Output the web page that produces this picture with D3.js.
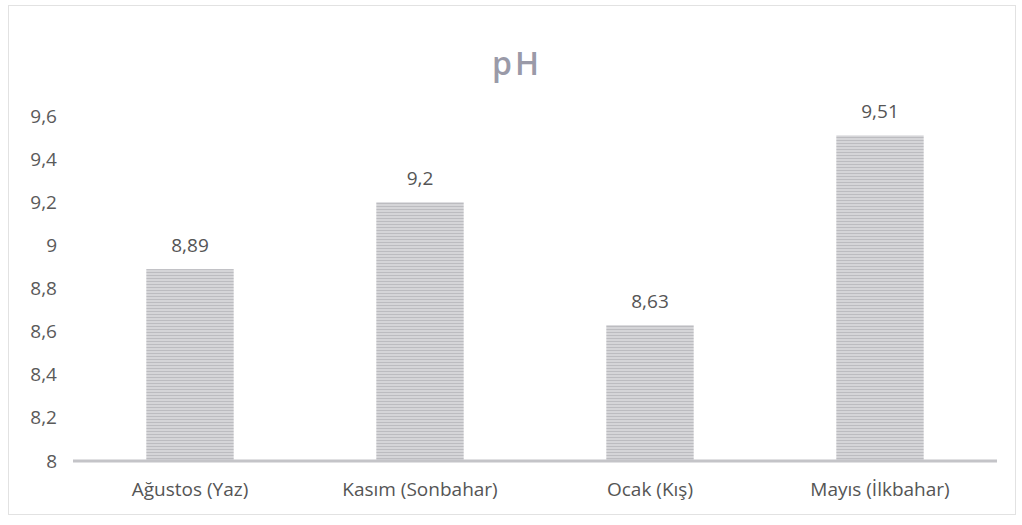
<!DOCTYPE html>
<html>
<head>
<meta charset="utf-8">
<script src="https://cdn.jsdelivr.net/npm/d3@7"></script>
<style>
  body { margin: 0; background: #fff; }
  svg text { font-family: "Open Sans", "Noto Sans", sans-serif; }
</style>
</head>
<body>
<div id="chart"></div>
<script>
var categories = ["Ağustos (Yaz)", "Kasım (Sonbahar)", "Ocak (Kış)", "Mayıs (İlkbahar)"];
var phValues = [8.89, 9.2, 8.63, 9.51];
var valueLabels = ["8,89", "9,2", "8,63", "9,51"];
var yTicks = [8, 8.2, 8.4, 8.6, 8.8, 9, 9.2, 9.4, 9.6];

var W = 1022, H = 525;
var margin = { top: 116, right: 27, bottom: 64, left: 75 };
var width = W - margin.left - margin.right,
    height = H - margin.top - margin.bottom;

var svg = d3.select("#chart").append("svg")
    .attr("width", W)
    .attr("height", H);

// outer chart frame
svg.append("rect")
    .attr("x", 8.5).attr("y", 5.5)
    .attr("width", 1007).attr("height", 509)
    .attr("fill", "#fff")
    .attr("stroke", "#e2e2e2");

// hatched bar fill
var defs = svg.append("defs");
var pat = defs.append("pattern")
    .attr("id", "hatch")
    .attr("patternUnits", "userSpaceOnUse")
    .attr("width", 4).attr("height", 3);
pat.append("rect").attr("width", 4).attr("height", 3).attr("fill", "#d5d5d8");
pat.append("rect").attr("width", 4).attr("height", 1).attr("fill", "#bcbcc0");

var g = svg.append("g")
    .attr("transform", "translate(" + margin.left + "," + margin.top + ")");

var x = d3.scaleBand()
    .domain(categories)
    .range([0, width])
    .paddingInner(0.62)
    .paddingOuter(0.31);

var y = d3.scaleLinear()
    .domain([8, 9.6])
    .range([height, 0]);

// title
svg.append("text")
    .attr("x", 517)
    .attr("y", 75)
    .attr("text-anchor", "middle")
    .attr("font-weight", "600")
    .style("font-size", "32px")
    .style("fill", "#9a9aa8")
    .style("letter-spacing", "3px")
    .text("pH");

// bars
g.selectAll(".bar")
    .data(phValues)
    .enter()
    .append("rect")
    .attr("class", "bar")
    .attr("x", function(d, i) { return x(categories[i]); })
    .attr("y", function(d) { return y(d); })
    .attr("width", x.bandwidth())
    .attr("height", function(d) { return height - y(d); })
    .attr("fill", "url(#hatch)");

// value labels
g.selectAll(".label")
    .data(phValues)
    .enter()
    .append("text")
    .attr("class", "label")
    .attr("x", function(d, i) { return x(categories[i]) + x.bandwidth() / 2; })
    .attr("y", function(d) { return y(d) - 17; })
    .attr("text-anchor", "middle")
    .style("font-size", "19px")
    .style("fill", "#555")
    .text(function(d, i) { return valueLabels[i]; });

// y axis
var yAxis = g.append("g")
    .call(d3.axisLeft(y).tickValues(yTicks).tickSize(0).tickPadding(18)
        .tickFormat(function(d) { return String(d).replace(".", ","); }));
yAxis.select(".domain").remove();
yAxis.selectAll("text")
    .style("font-size", "19px")
    .style("fill", "#5a5a5a")
    .attr("font-family", "Open Sans, Noto Sans, sans-serif");

// x axis
var xAxis = g.append("g")
    .attr("transform", "translate(0," + height + ")")
    .call(d3.axisBottom(x).tickSize(0).tickPadding(22));
xAxis.select(".domain")
    .attr("stroke", "#c4c4c8")
    .attr("stroke-width", 3)
    .attr("d", "M-2,0H" + (width + 2));
xAxis.selectAll("text")
    .style("font-size", "19px")
    .style("fill", "#555")
    .attr("font-family", "Open Sans, Noto Sans, sans-serif");
</script>
</body>
</html>
